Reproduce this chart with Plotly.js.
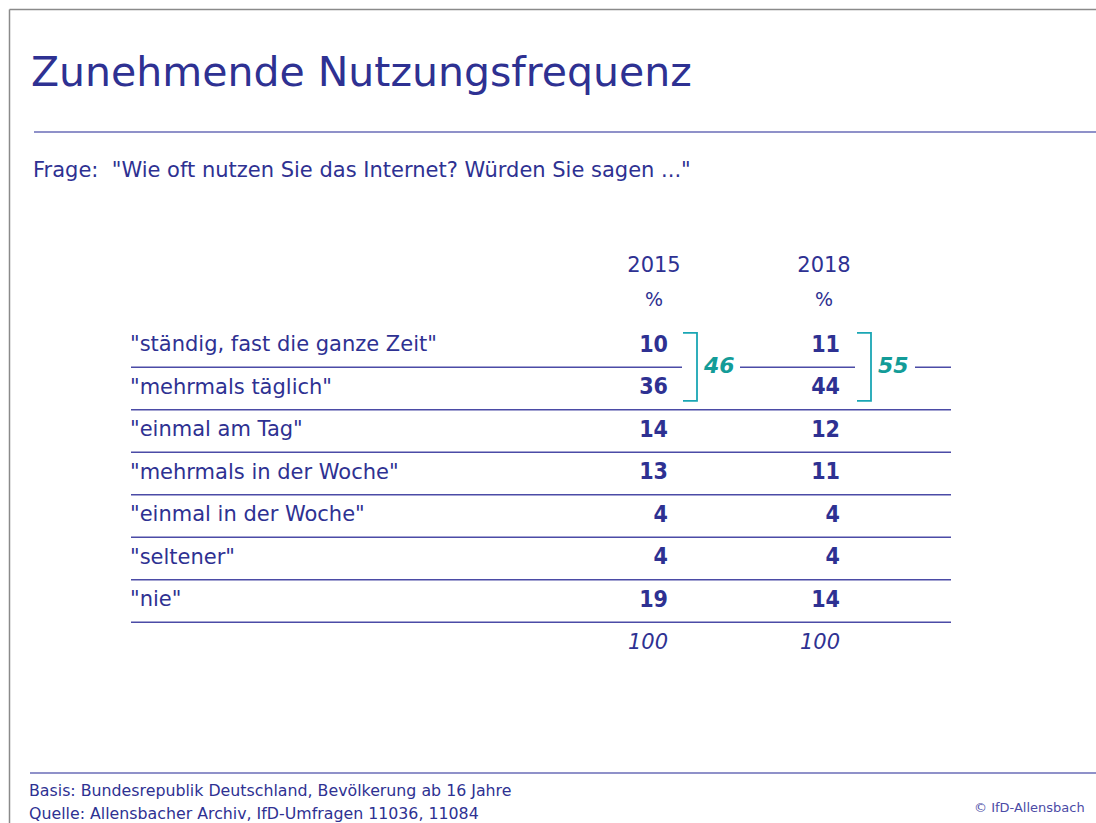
<!DOCTYPE html>
<html>
<head>
<meta charset="utf-8">
<script src="https://cdn.plot.ly/plotly-3.0.1.min.js"></script>
<style>html,body{margin:0;padding:0;background:#fff;}#chart{width:1096px;height:823px;}</style>
</head>
<body>
<div id="chart"></div>
<script>
// ---- data ----
const categories = ['"ständig, fast die ganze Zeit"', '"mehrmals täglich"', '"einmal am Tag"', '"mehrmals in der Woche"', '"einmal in der Woche"', '"seltener"', '"nie"'];
const years = ['2015', '2018'];
const values2015 = [10, 36, 14, 13, 4, 4, 19];
const values2018 = [11, 44, 12, 11, 4, 4, 14];
const totals = [100, 100];
const combined = [46, 55];   // "ständig" + "mehrmals täglich"
const titleText = 'Zunehmende Nutzungsfrequenz';
const questionText = 'Frage:  "Wie oft nutzen Sie das Internet? Würden Sie sagen ..."';
const basisText = 'Basis: Bundesrepublik Deutschland, Bevölkerung ab 16 Jahre';
const quelleText = 'Quelle: Allensbacher Archiv, IfD-Umfragen 11036, 11084';
const copyrightText = '© IfD-Allensbach';

// ---- styling ----
const W = 1096, H = 823;
const BLUE = '#2e3192';
const LINE = '#4b4ba6';
const LAV = '#8f91c9';
const TEAL = '#1aa6b4';
const TEAL_T = '#139c98';
const FONT = 'DejaVu Sans, Verdana, sans-serif';
const NUMFONT = 'DejaVu Sans Condensed, DejaVu Sans, sans-serif';

// row geometry (row index axis)
const ROW0 = 346, ROWH = 42.5;
const yMin = (0 - ROW0) / ROWH, yMax = (H - ROW0) / ROWH;
const colRight = [668, 840];
const colCenter = [654, 824];
const labelX = 130, lineX0 = 131, lineX1 = 951;
const rows = categories.map((_, i) => i);

const traces = [];
// labels
traces.push({x: categories.map(() => labelX), y: rows, mode: 'text', text: categories,
  textposition: 'middle right', textfont: {family: FONT, size: 21, color: BLUE}, hoverinfo: 'skip', showlegend: false});
// values
[values2015, values2018].forEach((vals, c) => {
  traces.push({x: vals.map(() => colRight[c]), y: rows, mode: 'text', text: vals.map(String),
    textposition: 'middle left', textfont: {family: NUMFONT, size: 23, color: BLUE, weight: 'bold'},
    hoverinfo: 'skip', showlegend: false});
});
// headers
traces.push({x: colCenter, y: [-1.86, -1.86], mode: 'text', text: years, textposition: 'middle center',
  textfont: {family: FONT, size: 21, color: BLUE}, hoverinfo: 'skip', showlegend: false});
traces.push({x: colCenter, y: [-1.06, -1.06], mode: 'text', text: ['%', '%'], textposition: 'middle center',
  textfont: {family: FONT, size: 19, color: BLUE}, hoverinfo: 'skip', showlegend: false});
// totals
traces.push({x: colRight, y: [7, 7], mode: 'text', text: totals.map(String), textposition: 'middle left',
  textfont: {family: FONT, size: 21, color: BLUE, style: 'italic'}, hoverinfo: 'skip', showlegend: false});
// combined sums
const sumX = [704, 878];
traces.push({x: sumX, y: [0.5, 0.5], mode: 'text', text: combined.map(String), textposition: 'middle right',
  textfont: {family: FONT, size: 22, color: TEAL_T, weight: 'bold', style: 'italic'}, hoverinfo: 'skip', showlegend: false});

const shapes = [];
// row separator lines (below each row); first one interrupted by brackets
for (let i = 0; i < categories.length; i++) {
  const y = i + 0.5;
  if (i === 0) {
    [[lineX0, 682], [740, 855], [915, lineX1]].forEach(s => shapes.push({type: 'line', xref: 'x', yref: 'y',
      x0: s[0], x1: s[1], y0: y, y1: y, line: {color: LINE, width: 1.5}}));
  } else {
    shapes.push({type: 'line', xref: 'x', yref: 'y', x0: lineX0, x1: lineX1, y0: y, y1: y, line: {color: LINE, width: 1.5}});
  }
}
// brackets
[[683, 697], [857, 871]].forEach(b => {
  const yt = -0.31, yb = 1.29;
  shapes.push({type: 'path', xref: 'x', yref: 'y',
    path: `M ${b[0]} ${yt} L ${b[1]} ${yt} L ${b[1]} ${yb} L ${b[0]} ${yb}`,
    line: {color: TEAL, width: 1.8}});
});
// frame (gray) & header/footer separators (paper)
shapes.push({type: 'line', xref: 'paper', yref: 'paper', x0: 9.5 / W, x1: 1, y0: 1 - 9.5 / H, y1: 1 - 9.5 / H, line: {color: '#8a8a8a', width: 1.5}});
shapes.push({type: 'line', xref: 'paper', yref: 'paper', x0: 9.5 / W, x1: 9.5 / W, y0: 0, y1: 1 - 9.5 / H, line: {color: '#8a8a8a', width: 1.5}});
shapes.push({type: 'line', xref: 'paper', yref: 'paper', x0: 34 / W, x1: 1, y0: 1 - 132 / H, y1: 1 - 132 / H, line: {color: LAV, width: 2}});
shapes.push({type: 'line', xref: 'paper', yref: 'paper', x0: 30 / W, x1: 1, y0: 1 - 773 / H, y1: 1 - 773 / H, line: {color: LAV, width: 2}});

const ann = (text, x, y, size, xanchor, extra) => Object.assign({text, xref: 'paper', yref: 'paper',
  x: x / W, y: 1 - y / H, xanchor, yanchor: 'middle', showarrow: false,
  font: {family: FONT, size, color: BLUE}}, extra || {});

const annotations = [
  ann(titleText, 29, 72, 41, 'left'),
  ann(questionText, 31, 170, 21, 'left'),
  ann(basisText, 27, 790, 15.8, 'left'),
  ann(quelleText, 27, 813, 15.8, 'left'),
  ann(copyrightText, 1087, 807, 13, 'right', {font: {family: FONT, size: 13, color: '#4b4ba6'}}),
];

const layout = {
  width: W, height: H,
  margin: {l: 0, r: 0, t: 0, b: 0},
  paper_bgcolor: '#ffffff', plot_bgcolor: '#ffffff',
  xaxis: {range: [0, W], visible: false, fixedrange: true},
  yaxis: {range: [yMax, yMin], visible: false, fixedrange: true},
  shapes, annotations, showlegend: false
};
Plotly.newPlot('chart', traces, layout, {displayModeBar: false, staticPlot: true});
</script>
</body>
</html>
